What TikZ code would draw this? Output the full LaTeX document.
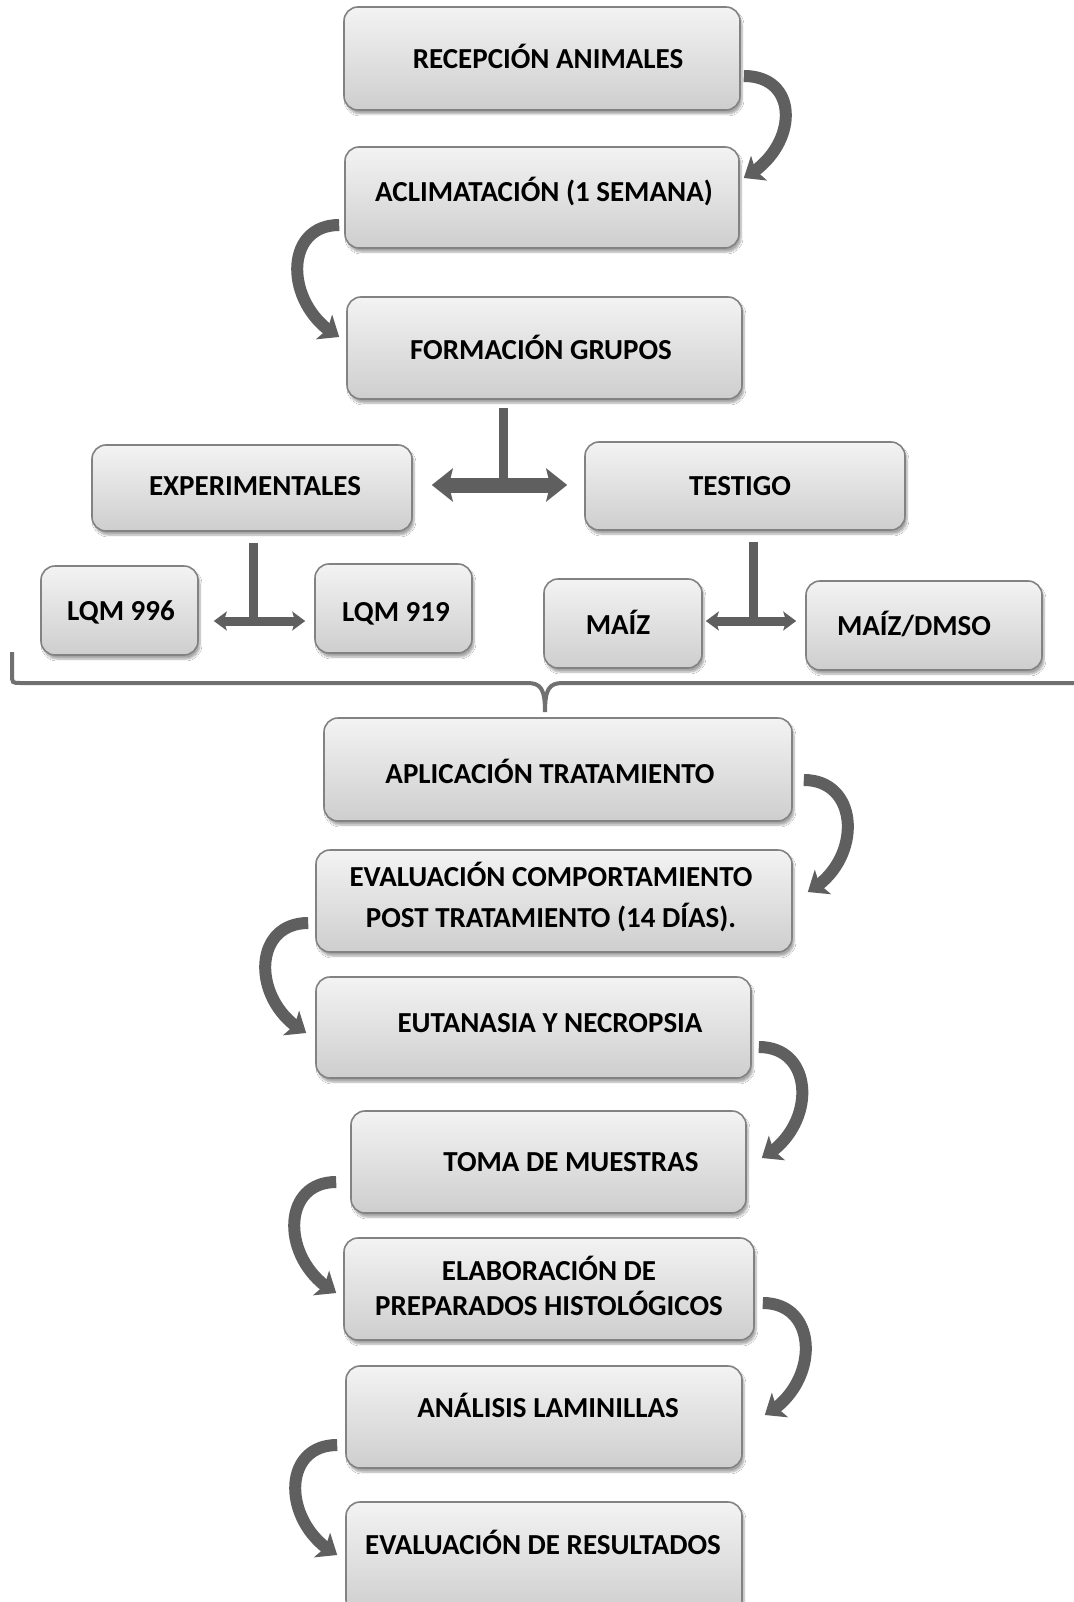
\documentclass[tikz,border=0pt]{standalone}
\usepackage{fontspec}
\setmainfont{Carlito}
\usetikzlibrary{arrows.meta,bending,calc,shadows.blur}

\definecolor{boxtop}{RGB}{243,243,243}
\definecolor{boxbot}{RGB}{206,206,206}
\definecolor{boxedge}{RGB}{130,130,130}
\definecolor{arrowgray}{RGB}{95,95,95}
\definecolor{bracegray}{RGB}{112,112,112}

% box given by its corners (x1,y1) and (x2,y2), y measured downwards
\newcommand\placebox[5]{%
  \node[stagebox, minimum width={(#4-#2)*1pt}, minimum height={(#5-#3)*1pt}]
    (#1) at ({(#2+#4)/2},{(#3+#5)/2}) {};}

\begin{document}
\begin{tikzpicture}[x=1pt,y=-1pt,
  stagebox/.style={rounded corners=14pt, draw=boxedge, line width=1.6pt,
    top color=boxtop, bottom color=boxbot, inner sep=0pt,
    blur shadow={shadow xshift=2pt, shadow yshift=-4pt, shadow blur steps=6, shadow opacity=35}},
  lbl/.style={font=\bfseries\fontsize{29}{35}\selectfont, text height=0.64em,
    text depth=0pt, inner sep=0pt, yshift=-7pt},
  flow/.style={draw=arrowgray, line width=12pt,
    -{Stealth[length=18pt,width=29pt,inset=4pt]}},
  stem/.style={draw=arrowgray, line width=9pt},
  split/.style={draw=arrowgray, line width=15pt,
    {Stealth[length=21pt,width=33pt,inset=4pt]}-{Stealth[length=21pt,width=33pt,inset=4pt]}},
  subsplit/.style={draw=arrowgray, line width=9pt,
    {Stealth[length=13pt,width=19pt,inset=3pt]}-{Stealth[length=13pt,width=19pt,inset=3pt]}},
  brace/.style={draw=bracegray, line width=4pt}
]
\fill[white] (0,0) rectangle (1073,1602);
\useasboundingbox (0,0) rectangle (1073,1602);

% ---- boxes ----
\placebox{rec}{344}{7}{740}{110}
\placebox{acl}{345}{147}{739}{248}
\placebox{frm}{347}{297}{742}{399}
\placebox{exp}{92}{445}{412}{531}
\placebox{tes}{585}{442}{905}{530}
\placebox{lqa}{41}{566}{198}{655}
\placebox{lqb}{315}{564}{472}{653}
\placebox{mai}{544}{579}{702}{668}
\placebox{dms}{806}{581}{1042}{670}
\placebox{apl}{324}{718}{792}{821}
\placebox{evc}{316}{850}{792}{952}
\placebox{eut}{316}{977}{751}{1078}
\placebox{tom}{351}{1111}{746}{1213}
\placebox{ela}{344}{1238}{754}{1340}
\placebox{ana}{346}{1366}{742}{1468}
\placebox{evr}{346}{1502}{742}{1614}

% ---- labels ----
\node[lbl] (rec-t) at (548,58) {RECEPCIÓN ANIMALES};
\node[lbl] (acl-t) at (544,191) {ACLIMATACIÓN (1 SEMANA)};
\node[lbl] (frm-t) at (541,349) {FORMACIÓN GRUPOS};
\node[lbl] (exp-t) at (255,485) {EXPERIMENTALES};
\node[lbl] (tes-t) at (740,485) {TESTIGO};
\node[lbl] (lqa-t) at (121,610) {LQM 996};
\node[lbl] (lqb-t) at (396,611) {LQM 919};
\node[lbl] (mai-t) at (618,624) {MAÍZ};
\node[lbl] (dms-t) at (914,625) {MAÍZ/DMSO};
\node[lbl] (apl-t) at (550,773) {APLICACIÓN TRATAMIENTO};
\node[lbl] (evc-t1) at (551,876) {EVALUACIÓN COMPORTAMIENTO};
\node[lbl] (evc-t2) at (551,917) {POST TRATAMIENTO (14 DÍAS).};
\node[lbl] (eut-t) at (550,1022) {EUTANASIA Y NECROPSIA};
\node[lbl] (tom-t) at (571,1161) {TOMA DE MUESTRAS};
\node[lbl] (ela-t1) at (549,1270) {ELABORACIÓN DE};
\node[lbl] (ela-t2) at (549,1305) {PREPARADOS HISTOLÓGICOS};
\node[lbl] (ana-t) at (548,1407) {ANÁLISIS LAMINILLAS};
\node[lbl] (evr-t) at (543,1544) {EVALUACIÓN DE RESULTADOS};

% ---- curved step arrows ----
\draw[flow] ($(rec.east)+(3,17.5)$) .. controls +(57,0) and +(55,-30) .. ($(acl.east)+(4,-19.5)$);
\draw[flow] ($(acl.west)+(-5,27.5)$) .. controls +(-57,0) and +(-55,-30) .. ($(frm.west)+(-7,-11)$);
\draw[flow] ($(apl.east)+(11,10.5)$) .. controls +(57,0) and +(55,-30) .. ($(evc.east)+(15,-9)$);
\draw[flow] ($(evc.west)+(-7,22)$) .. controls +(-57,0) and +(-55,-30) .. ($(eut.west)+(-9,5.5)$);
\draw[flow] ($(eut.east)+(7,19.5)$) .. controls +(57,0) and +(55,-30) .. ($(tom.east)+(15,-4)$);
\draw[flow] ($(tom.west)+(-14,20)$) .. controls +(-57,0) and +(-55,-30) .. ($(ela.west)+(-7,4)$);
\draw[flow] ($(ela.east)+(8,14)$) .. controls +(57,0) and +(55,-30) .. ($(ana.east)+(22,-2)$);
\draw[flow] ($(ana.west)+(-8,28)$) .. controls +(-57,0) and +(-55,-30) .. ($(evr.west)+(-8,-3)$);

% ---- group split ----
\coordinate (j1) at (503,485);
\coordinate (j2) at (253,621);
\coordinate (j3) at (753,621);
\draw[stem] ($(j1 |- frm.south)+(0,8)$) -- (j1);
\draw[split] ($(exp.east |- j1)+(19,0)$) -- ($(tes.west |- j1)+(-17,0)$);
\draw[stem] ($(j2 |- exp.south)+(0,11)$) -- (j2);
\draw[subsplit] ($(lqa.east |- j2)+(15,0)$) -- ($(lqb.west |- j2)+(-9,0)$);
\draw[stem] ($(j3 |- tes.south)+(0,11)$) -- (j3);
\draw[subsplit] ($(mai.east |- j3)+(3,0)$) -- ($(dms.west |- j3)+(-9,0)$);

% ---- brace gathering all groups ----
\coordinate (btip) at ($(apl.north)+(-13,-5)$);
\draw[brace] (12,652) -- (12,674) .. controls (12,683) .. (21,683) -- (527,683)
  .. controls (541,683) and (545,689) .. (btip)
  .. controls (545,689) and (549,683) .. (563,683) -- (1080,683);
\end{tikzpicture}
\end{document}
